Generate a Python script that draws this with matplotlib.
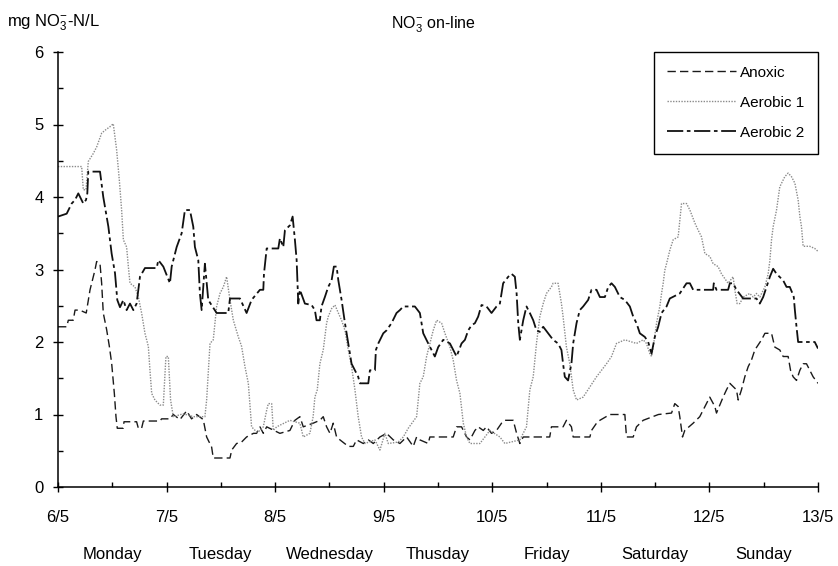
import matplotlib
matplotlib.use('Agg')
import matplotlib.pyplot as plt
import numpy as np

plt.rcParams['font.family'] = ['Liberation Sans', 'DejaVu Sans']
plt.rcParams['mathtext.fontset'] = 'custom'
plt.rcParams['mathtext.rm'] = 'Liberation Sans'
plt.rcParams['mathtext.it'] = 'Liberation Sans'

# x in days since 6/5
anoxic_x = [0.0, 0.08, 0.095, 0.14, 0.157, 0.2, 0.26, 0.295, 0.34, 0.356, 0.387, 0.402, 0.417, 0.448,
            0.473, 0.494, 0.519, 0.534, 0.546, 0.6, 0.608, 0.724, 0.74, 0.77, 0.786, 0.939, 0.954, 1.031,
            1.062, 1.123, 1.185, 1.23, 1.277, 1.338, 1.369, 1.415, 1.43, 1.584, 1.6, 1.645, 1.691, 1.737,
            1.8, 1.829, 1.86, 1.891, 1.922, 2.044, 2.136, 2.182, 2.228, 2.259, 2.35, 2.412, 2.443, 2.474,
            2.505, 2.535, 2.566, 2.597, 2.674, 2.72, 2.75, 2.812, 2.858, 2.904, 2.965, 3.026, 3.088, 3.149,
            3.211, 3.272, 3.303, 3.333, 3.41, 3.425, 3.64, 3.671, 3.717, 3.763, 3.794, 3.84, 3.87, 3.917,
            3.947, 3.993, 4.039, 4.085, 4.116, 4.193, 4.224, 4.254, 4.285, 4.529, 4.545, 4.652, 4.683,
            4.729, 4.745, 4.899, 4.914, 4.96, 4.991, 5.083, 5.221, 5.236, 5.298, 5.328, 5.39, 5.53, 5.651,
            5.681, 5.712, 5.727, 5.752, 5.773, 5.85, 5.911, 5.942, 6.003, 6.05, 6.065, 6.126, 6.157, 6.188,
            6.249, 6.265, 6.295, 6.326, 6.357, 6.387, 6.418, 6.48, 6.511, 6.572, 6.602, 6.648, 6.679,
            6.725, 6.747, 6.771, 6.802, 6.833, 6.863, 6.894, 6.955, 7.0]
anoxic_y = [2.21, 2.21, 2.30, 2.30, 2.44, 2.44, 2.40, 2.72, 2.99, 3.11, 3.08, 2.81, 2.40, 2.17,
            1.94, 1.71, 1.29, 0.97, 0.81, 0.81, 0.90, 0.90, 0.81, 0.81, 0.91, 0.91, 0.94, 0.94,
            1.0, 0.93, 1.05, 0.94, 1.0, 0.93, 0.69, 0.55, 0.40, 0.40, 0.51, 0.60, 0.62, 0.69,
            0.74, 0.74, 0.83, 0.74, 0.83, 0.74, 0.78, 0.92, 0.97, 0.83, 0.88, 0.92, 0.97, 0.83,
            0.74, 0.88, 0.69, 0.65, 0.56, 0.56, 0.65, 0.60, 0.65, 0.60, 0.69, 0.74, 0.65, 0.60,
            0.69, 0.56, 0.69, 0.65, 0.60, 0.69, 0.69, 0.83, 0.83, 0.69, 0.65, 0.78, 0.83, 0.78,
            0.83, 0.74, 0.78, 0.88, 0.92, 0.92, 0.74, 0.60, 0.69, 0.69, 0.83, 0.83, 0.92,
            0.83, 0.69, 0.69, 0.78, 0.88, 0.92, 1.0, 1.0, 0.69, 0.69, 0.83, 0.92, 1.0, 1.02,
            1.15, 1.11, 0.97, 0.69, 0.78, 0.88, 0.97, 1.06, 1.24, 1.11, 1.02, 1.24, 1.34, 1.43,
            1.34, 1.20, 1.34, 1.52, 1.66, 1.75, 1.89, 2.03, 2.12, 2.12, 1.93, 1.89, 1.80,
            1.80, 1.61, 1.52, 1.47, 1.61, 1.70, 1.70, 1.52, 1.43]

aerobic1_x = [0.0, 0.218, 0.233, 0.258, 0.279, 0.325, 0.356, 0.402, 0.433, 0.479, 0.509, 0.54, 0.565,
              0.586, 0.602, 0.632, 0.648, 0.663, 0.709, 0.74, 0.77, 0.801, 0.832, 0.847, 0.863, 0.893,
              0.939, 0.97, 0.994, 1.016, 1.037, 1.062, 1.154, 1.246, 1.353, 1.369, 1.4, 1.43, 1.461,
              1.492, 1.523, 1.553, 1.584, 1.615, 1.661, 1.691, 1.722, 1.753, 1.783, 1.829, 1.845,
              1.891, 1.922, 1.937, 1.968, 1.983, 2.014, 2.136, 2.228, 2.259, 2.32, 2.35, 2.366, 2.388,
              2.412, 2.443, 2.474, 2.489, 2.52, 2.551, 2.582, 2.612, 2.643, 2.674, 2.704, 2.735,
              2.765, 2.796, 2.827, 2.919, 2.965, 3.011, 3.042, 3.134, 3.18, 3.226, 3.303, 3.333,
              3.364, 3.395, 3.425, 3.456, 3.487, 3.533, 3.564, 3.61, 3.64, 3.671, 3.702, 3.733,
              3.763, 3.794, 3.886, 3.932, 3.978, 4.07, 4.116, 4.254, 4.285, 4.315, 4.346, 4.377,
              4.407, 4.438, 4.469, 4.499, 4.545, 4.56, 4.606, 4.637, 4.652, 4.683, 4.714, 4.745,
              4.776, 4.837, 4.899, 4.96, 5.006, 5.052, 5.098, 5.144, 5.175, 5.221, 5.328, 5.39,
              5.42, 5.451, 5.467, 5.482, 5.513, 5.543, 5.559, 5.574, 5.589, 5.605, 5.636, 5.666,
              5.712, 5.743, 5.789, 5.82, 5.866, 5.897, 5.927, 5.958, 6.004, 6.034, 6.08, 6.111,
              6.172, 6.218, 6.234, 6.255, 6.28, 6.311, 6.372, 6.403, 6.433, 6.464, 6.511, 6.541,
              6.557, 6.572, 6.587, 6.618, 6.648, 6.694, 6.725, 6.756, 6.787, 6.817, 6.833, 6.848,
              6.863, 6.924, 6.97, 7.0]
aerobic1_y = [4.42, 4.42, 4.10, 4.10, 4.49, 4.60, 4.69, 4.88, 4.92, 4.97, 5.01, 4.65, 4.23,
              3.82, 3.41, 3.31, 3.04, 2.81, 2.76, 2.62, 2.40, 2.12, 1.94, 1.61, 1.29, 1.20,
              1.13, 1.13, 1.80, 1.80, 1.20, 0.97, 1.01, 0.97, 0.97, 1.20, 1.98, 2.03, 2.49,
              2.67, 2.76, 2.90, 2.58, 2.30, 2.07, 1.94, 1.66, 1.43, 0.83, 0.76, 0.76,
              0.83, 1.06, 1.15, 1.15, 0.78, 0.83, 0.92, 0.88, 0.69, 0.74, 0.97, 1.24, 1.34,
              1.70, 1.89, 2.26, 2.35, 2.46, 2.51, 2.40, 2.30, 2.16, 1.89, 1.66, 1.34,
              0.97, 0.69, 0.60, 0.65, 0.51, 0.74, 0.60, 0.62, 0.69, 0.81, 0.97, 1.43,
              1.52, 1.80, 1.98, 2.16, 2.30, 2.26, 2.12, 1.93, 1.75, 1.47, 1.29, 0.88,
              0.69, 0.60, 0.60, 0.69, 0.78, 0.69, 0.60, 0.65, 0.74, 0.83, 1.34, 1.52,
              1.98, 2.35, 2.53, 2.67, 2.76, 2.81, 2.81, 2.53, 2.35, 1.93, 1.70, 1.34,
              1.20, 1.24, 1.38, 1.52, 1.61, 1.70, 1.80, 1.98, 2.0, 2.03, 1.98, 2.03,
              1.98, 1.84, 1.80, 1.93, 2.26, 2.49, 2.67, 2.81, 2.99, 3.08, 3.27, 3.41,
              3.45, 3.91, 3.91, 3.82, 3.64, 3.54, 3.45, 3.22, 3.18, 3.08, 3.04, 2.94,
              2.81, 2.90, 2.72, 2.53, 2.53, 2.62, 2.67, 2.62, 2.67, 2.62, 2.76, 2.94,
              3.13, 3.41, 3.59, 3.82, 4.14, 4.28, 4.33, 4.28, 4.19, 3.96, 3.73, 3.59,
              3.32, 3.32, 3.29, 3.25]

aerobic2_x = [0.0, 0.08, 0.126, 0.157, 0.187, 0.233, 0.258, 0.27, 0.279, 0.387, 0.417, 0.464, 0.494,
              0.525, 0.546, 0.571, 0.602, 0.632, 0.663, 0.694, 0.724, 0.755, 0.801, 0.909, 0.924,
              0.97, 1.031, 1.047, 1.093, 1.139, 1.169, 1.215, 1.246, 1.261, 1.292, 1.307, 1.323,
              1.353, 1.384, 1.461, 1.568, 1.584, 1.676, 1.737, 1.783, 1.86, 1.891, 1.897, 1.922,
              2.029, 2.044, 2.075, 2.09, 2.136, 2.161, 2.182, 2.198, 2.213, 2.228, 2.274, 2.336,
              2.366, 2.381, 2.412, 2.427, 2.458, 2.489, 2.52, 2.541, 2.566, 2.582, 2.612, 2.643,
              2.674, 2.704, 2.735, 2.765, 2.781, 2.858, 2.873, 2.919, 2.928, 2.95, 2.996, 3.026,
              3.072, 3.118, 3.149, 3.18, 3.287, 3.333, 3.364, 3.41, 3.441, 3.471, 3.502, 3.548,
              3.61, 3.64, 3.671, 3.717, 3.748, 3.778, 3.809, 3.84, 3.87, 3.901, 3.947, 3.993,
              4.039, 4.07, 4.1, 4.147, 4.177, 4.208, 4.224, 4.239, 4.254, 4.285, 4.315, 4.346,
              4.377, 4.407, 4.438, 4.469, 4.515, 4.56, 4.606, 4.637, 4.652, 4.668, 4.698, 4.729,
              4.745, 4.776, 4.806, 4.837, 4.883, 4.914, 4.96, 4.991, 5.037, 5.068, 5.098, 5.129,
              5.175, 5.221, 5.267, 5.298, 5.328, 5.359, 5.405, 5.436, 5.467, 5.497, 5.528, 5.559,
              5.605, 5.635, 5.727, 5.758, 5.789, 5.82, 5.85, 6.034, 6.04, 6.065, 6.172, 6.188,
              6.218, 6.249, 6.311, 6.433, 6.464, 6.495, 6.526, 6.557, 6.587, 6.618, 6.679, 6.71,
              6.74, 6.765, 6.777, 6.787, 6.802, 6.817, 6.97, 7.0]
aerobic2_y = [3.73, 3.77, 3.91, 3.96, 4.05, 3.91, 3.96, 4.05, 4.35, 4.35, 4.0, 3.59, 3.22,
              2.95, 2.58, 2.48, 2.58, 2.44, 2.53, 2.44, 2.53, 2.90, 3.02, 3.02, 3.13,
              3.04, 2.81, 3.04, 3.31, 3.50, 3.82, 3.82, 3.59, 3.31, 3.13, 2.67, 2.44,
              3.08, 2.58, 2.40, 2.40, 2.60, 2.60, 2.40, 2.58, 2.72, 2.72, 2.94, 3.29,
              3.29, 3.43, 3.31, 3.54, 3.61, 3.73, 3.41, 3.13, 2.53, 2.72, 2.53, 2.51,
              2.44, 2.30, 2.30, 2.49, 2.62, 2.76, 2.85, 3.04, 3.04, 2.85, 2.58, 2.26,
              1.98, 1.70, 1.61, 1.52, 1.43, 1.43, 1.61, 1.61, 1.89, 1.98, 2.12, 2.16,
              2.26, 2.40, 2.44, 2.49, 2.49, 2.40, 2.12, 1.98, 1.89, 1.80, 1.93, 2.03,
              1.98, 1.89, 1.80, 1.98, 2.03, 2.16, 2.23, 2.26, 2.35, 2.51, 2.49, 2.40,
              2.49, 2.53, 2.81, 2.90, 2.94, 2.90, 2.67, 2.26, 2.03, 2.30, 2.49, 2.40,
              2.30, 2.16, 2.14, 2.21, 2.12, 2.03, 1.98, 1.89, 1.70, 1.52, 1.47, 1.70,
              1.98, 2.26, 2.44, 2.49, 2.58, 2.72, 2.72, 2.62, 2.62, 2.76, 2.81, 2.76,
              2.62, 2.58, 2.49, 2.35, 2.26, 2.12, 2.07, 2.0, 1.84, 2.07, 2.21, 2.40,
              2.49, 2.60, 2.67, 2.74, 2.81, 2.81, 2.72, 2.72, 2.81, 2.72, 2.72, 2.81,
              2.81, 2.72, 2.60, 2.60, 2.53, 2.62, 2.76, 2.90, 3.01, 2.94, 2.85, 2.76,
              2.76, 2.67, 2.62, 2.44, 2.21, 2.0, 2.0, 1.91]

date_labels = ['6/5', '7/5', '8/5', '9/5', '10/5', '11/5', '12/5', '13/5']
day_names = ['Monday', 'Tuesday', 'Wednesday', 'Thusday', 'Friday', 'Saturday', 'Sunday']

fig = plt.figure(figsize=(8.38, 5.66), dpi=100)
ax = fig.add_axes([58 / 838, 1 - 487 / 566, 760 / 838, 435 / 566])

ax.plot(anoxic_x, anoxic_y, color='#1a1a1a', lw=1.0, linestyle=(0, (6, 3)), label='Anoxic')
ax.plot(aerobic1_x, aerobic1_y, color='#8a8a8a', lw=1.0, linestyle=(0, (1, 1)), label='Aerobic 1')
ax.plot(aerobic2_x, aerobic2_y, color='#111111', lw=1.3, linestyle=(0, (9, 2, 2, 2)), label='Aerobic 2')

ax.set_xlim(0, 7)
ax.set_ylim(0, 6)
for s in ['top', 'right']:
    ax.spines[s].set_visible(False)
for s in ['left', 'bottom']:
    ax.spines[s].set_linewidth(1.1)

ax.set_xticks(np.arange(8), labels=date_labels)
ax.set_xticks(np.arange(7) + 0.5, labels=day_names, minor=True)
ax.set_yticks(np.arange(7))
ax.set_yticks(np.arange(0.5, 6, 1), minor=True)
ax.tick_params(axis='both', which='major', direction='inout', length=7, width=1, labelsize=12)
ax.tick_params(axis='x', which='major', pad=13)
ax.tick_params(axis='y', which='major', pad=7)
ax.tick_params(axis='both', which='minor', direction='in', length=3.5, width=1, labelsize=12)
ax.tick_params(axis='x', which='minor', pad=43)

leg = ax.legend(loc='upper right', bbox_to_anchor=(1.0, 1.0), borderaxespad=0, fontsize=11,
                handlelength=4.5, labelspacing=1.05, borderpad=0.9, fancybox=False,
                edgecolor='black', framealpha=1, handletextpad=0.25)
leg.get_frame().set_linewidth(1.0)

fig.text(433 / 838, 1 - 25 / 566, r'NO$_3^{-}$ on-line', ha='center', va='center', fontsize=11.5)
fig.text(7 / 838, 1 - 23 / 566, r'mg NO$_3^{-}$-N/L', ha='left', va='center', fontsize=12)

fig.savefig('out.png', dpi=100)
